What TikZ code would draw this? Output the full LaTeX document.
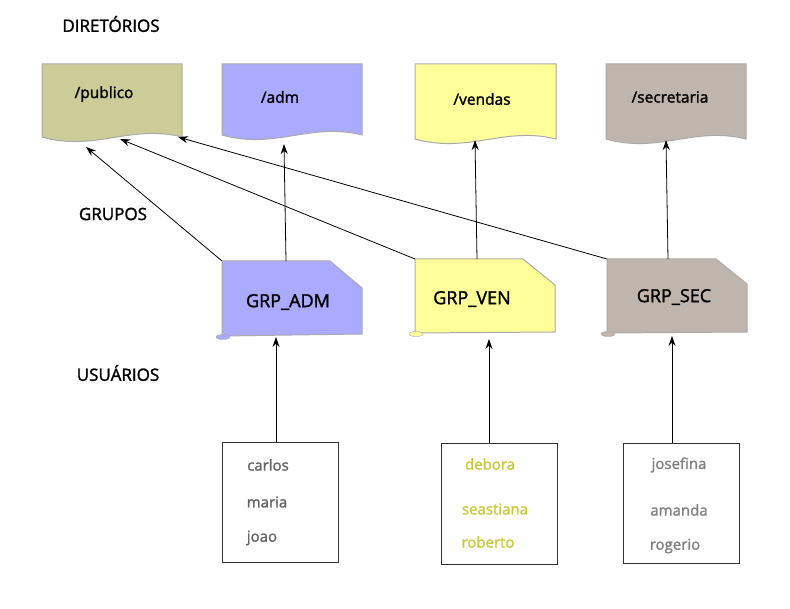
\documentclass[tikz,border=0pt]{standalone}
\usepackage{fontspec}
\setmainfont{Open Sans}
\newfontfamily\semi{Open Sans}[FakeBold=1.6]
\usetikzlibrary{arrows.meta}

\definecolor{corpub}{RGB}{204,204,153}
\definecolor{coradm}{RGB}{170,170,255}
\definecolor{corven}{RGB}{255,255,153}
\definecolor{corsec}{RGB}{192,181,172}
\definecolor{borda}{RGB}{170,170,170}
\definecolor{nomeadm}{RGB}{100,100,100}
\definecolor{nomeven}{RGB}{200,200,60}
\definecolor{nomesec}{RGB}{128,128,128}

\begin{document}
\begin{tikzpicture}[x=1pt,y=-1pt,
    rotulo/.style={font=\semi\fontsize{17}{19}\selectfont},
    pasta/.style={draw=borda, line width=1pt},
    nomedir/.style={font=\semi\fontsize{15.5}{17}\selectfont},
    nomegrp/.style={font=\semi\fontsize{18}{20}\selectfont},
    nome/.style={font=\semi\fontsize{15}{17}\selectfont},
    caixa/.style={draw=black!80, line width=1pt, minimum width=116pt, minimum height=120pt, inner sep=0pt},
    seta/.style={-{Stealth[length=10pt,width=7pt]}, line width=0.8pt}]
     \useasboundingbox (0,0) rectangle (790,609);

     % titulos
     \node[rotulo] (tdir) at (111,24) {DIRETÓRIOS};
     \node[rotulo] (tgrp) at (113,214) {GRUPOS};
     \node[rotulo] (tusu) at (118,373) {USUÁRIOS};

     % diretorios
     \draw[pasta, fill=corpub] (42,64) -- (182,64) -- (182,137)
          .. controls (130,124) and (95,152) .. (42,137) -- cycle;
     \draw[pasta, fill=coradm] (222,64) -- (362,64) -- (362,135)
          .. controls (310,122) and (275,150) .. (222,135) -- cycle;
     \draw[pasta, fill=corven] (415,64) -- (556,64) -- (556,139)
          .. controls (504,126) and (469,154) .. (415,139) -- cycle;
     \draw[pasta, fill=corsec] (606,64) -- (746,64) -- (746,139)
          .. controls (694,126) and (659,154) .. (606,139) -- cycle;
     \node[nomedir] (dpub) at (104,94) {/publico};
     \node[nomedir] (dadm) at (280,97) {/adm};
     \node[nomedir] (dven) at (482,99) {/vendas};
     \node[nomedir] (dsec) at (670,97) {/secretaria};
     \coordinate (dpub-a) at (86,147);
     \coordinate (dpub-b) at (120,139);
     \coordinate (dpub-c) at (178,137);
     \coordinate (dadm-s) at (284,144);
     \coordinate (dven-s) at (475,140);
     \coordinate (dsec-s) at (666,140);

     % grupos
     \draw[pasta, fill=coradm] (222,261) -- (330,261) -- (362,288) -- (362,334) -- (222,336) -- cycle;
     \draw[draw=borda, fill=coradm] (223,337) ellipse (7 and 2.5);
     \draw[pasta, fill=corven] (415,259) -- (523,259) -- (555,285) -- (555,332) -- (415,333) -- cycle;
     \draw[draw=borda, fill=corven] (416,334) ellipse (7 and 2.5);
     \draw[pasta, fill=corsec] (607,259) -- (716,259) -- (747,284) -- (747,332) -- (607,333) -- cycle;
     \draw[draw=borda, fill=corsec] (608,334) ellipse (7 and 2.5);
     \node[nomegrp] (gadm) at (288,302) {GRP\_ADM};
     \node[nomegrp] (gven) at (472,299) {GRP\_VEN};
     \node[nomegrp] (gsec) at (674,297) {GRP\_SEC};
     \coordinate (gadm-nw) at (222,261);
     \coordinate (gadm-n) at (286,261);
     \coordinate (gadm-s) at (276,337);
     \coordinate (gven-nw) at (415,259);
     \coordinate (gven-n) at (477,259);
     \coordinate (gven-s) at (489,339);
     \coordinate (gsec-nw) at (607,259);
     \coordinate (gsec-n) at (668,259);
     \coordinate (gsec-s) at (672,336);

     % usuarios
     \node[caixa] (uadm) at (280,502.5) {};
     \node[caixa] (uven) at (499.5,504) {};
     \node[caixa] (usec) at (681.5,503.5) {};
     \node[nome, text=nomeadm] (carlos) at (268,465) {carlos};
     \node[nome, text=nomeadm] (maria) at (267,502) {maria};
     \node[nome, text=nomeadm] (joao) at (262,538) {joao};
     \node[nome, text=nomeven] (debora) at (490,464) {debora};
     \node[nome, text=nomeven] (seastiana) at (495,509) {seastiana};
     \node[nome, text=nomeven] (roberto) at (488,542) {roberto};
     \node[nome, text=nomesec] (josefina) at (679,465) {josefina};
     \node[nome, text=nomesec] (amanda) at (679,510) {amanda};
     \node[nome, text=nomesec] (rogerio) at (675,546) {rogerio};

     % setas
     \draw[seta] (gadm-nw) -- (dpub-a);
     \draw[seta] (gadm-n) -- (dadm-s);
     \draw[seta] (gven-nw) -- (dpub-b);
     \draw[seta] (gven-n) -- (dven-s);
     \draw[seta] (gsec-nw) -- (dpub-c);
     \draw[seta] (gsec-n) -- (dsec-s);
     \draw[seta] (uadm.north -| gadm-s) -- (gadm-s);
     \draw[seta] (uven.north -| gven-s) -- (gven-s);
     \draw[seta] (usec.north -| gsec-s) -- (gsec-s);
\end{tikzpicture}
\end{document}
